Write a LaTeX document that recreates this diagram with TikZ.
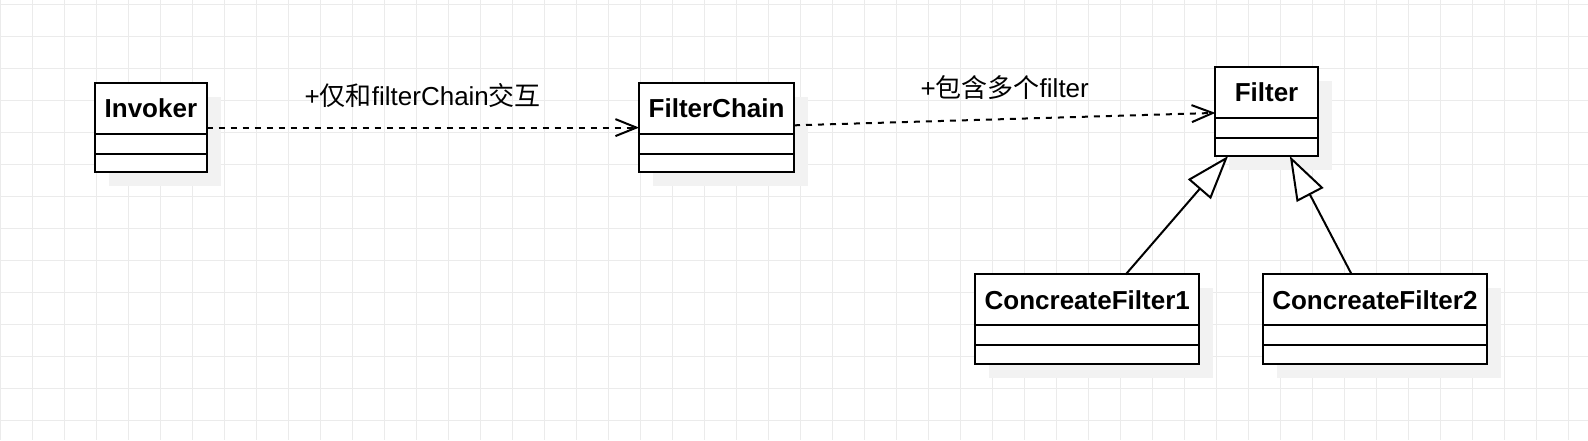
\documentclass[tikz,border=0pt]{standalone}
\usepackage{fontspec}
\setmainfont{Liberation Sans}
\newfontfamily\cjk{Noto Sans CJK SC}
\usetikzlibrary{arrows.meta, positioning, shadows}

\begin{document}
\begin{tikzpicture}[x=1pt, y=-1pt, line width=2pt, font=\fontsize{26}{31}\selectfont,
    gridline/.style={line width=1pt, draw=black!8, step=32pt},
    classbox/.style={draw, rectangle, fill=white, outer sep=0pt, minimum height=89.2pt,
      drop shadow={shadow xshift=14pt, shadow yshift=-14pt, fill=black!5, opacity=1}},
    classname/.style={draw, rectangle, fill=white, outer sep=0pt, minimum height=50.7pt,
      font=\fontsize{26}{31}\selectfont\bfseries},
    classattr/.style={draw, rectangle, outer sep=0pt, minimum height=20.2pt},
    depend/.style={dash pattern=on 6pt off 6pt, -{Straight Barb[length=21pt, width=17pt]}},
    inherit/.style={-{Triangle[length=44pt, width=30pt, fill=white]}}]
        \useasboundingbox (0,0) rectangle (1588,440);
        % Canvas
        \fill[white] (0,0) rectangle (1588,440);
        \draw[gridline, shift={(0.3,4)}] (-0.3,436) grid (1587.7,-4);

        % Classes
        \node (invoker) [classbox, minimum width=111.4pt] at (150.9,127.6) {};
        \node (invoker-name) [classname, minimum width=111.4pt, below=0pt of invoker.north] {Invoker};
        \node (invoker-attr) [classattr, minimum width=111.4pt, below=0pt of invoker-name] {};

        \node (chain) [classbox, minimum width=154.9pt] at (716.55,127.6) {};
        \node (chain-name) [classname, minimum width=154.9pt, below=0pt of chain.north] {FilterChain};
        \node (chain-attr) [classattr, minimum width=154.9pt, below=0pt of chain-name] {};

        \node (filter) [classbox, minimum width=102.3pt] at (1266.55,111.4) {};
        \node (filter-name) [classname, minimum width=102.3pt, below=0pt of filter.north] {Filter};
        \node (filter-attr) [classattr, minimum width=102.3pt, below=0pt of filter-name] {};

        \node (cfone) [classbox, minimum width=223.9pt] at (1087.25,319.05) {};
        \node (cfone-name) [classname, minimum width=223.9pt, below=0pt of cfone.north] {ConcreateFilter1};
        \node (cfone-attr) [classattr, minimum width=223.9pt, below=0pt of cfone-name] {};

        \node (cftwo) [classbox, minimum width=223.8pt] at (1374.9,319.05) {};
        \node (cftwo-name) [classname, minimum width=223.8pt, below=0pt of cftwo.north] {ConcreateFilter2};
        \node (cftwo-attr) [classattr, minimum width=223.8pt, below=0pt of cftwo-name] {};

        % Relations
        \draw[depend] (invoker) -- (chain) node[midway, yshift=31.6pt] {+{\cjk 仅和}filterChain{\cjk 交互}};
        \draw[depend] (chain) -- (filter) node[midway, yshift=31.6pt] {+{\cjk 包含多个}filter};
        \draw[inherit] (cfone) -- (filter);
        \draw[inherit] (cftwo) -- (filter);
    \end{tikzpicture}
\end{document}
